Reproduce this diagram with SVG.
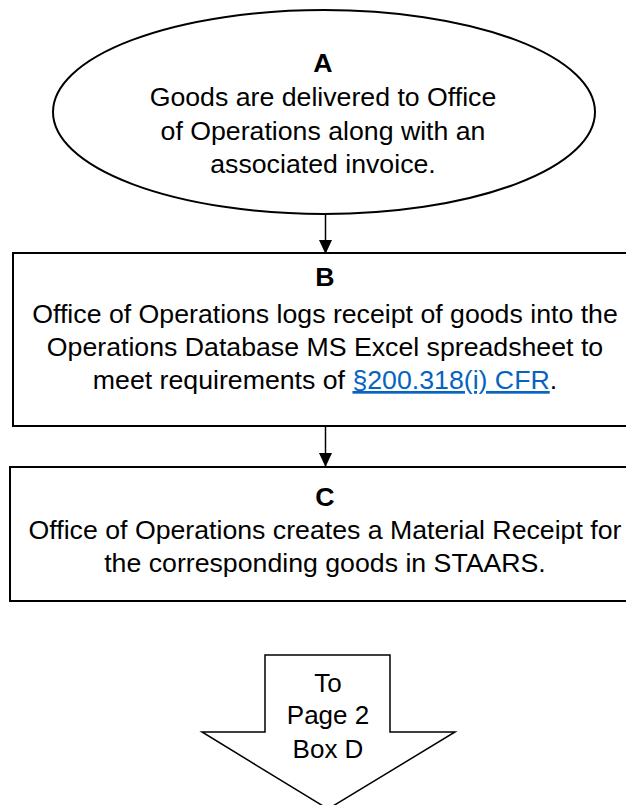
<svg xmlns="http://www.w3.org/2000/svg" width="626" height="805" viewBox="0 0 626 805">
<style>
  .shape { fill: #ffffff; stroke: #000000; stroke-width: 2; }
  .txt { font-family: "Liberation Sans", Arial, sans-serif; font-size: 26.7px; fill: #000000; text-anchor: middle; }
  .small { font-size: 26px; }
  .bold { font-weight: bold; }
  .link { fill: #0563C1; text-decoration: underline; }
  .conn { stroke: #000000; stroke-width: 1.5; fill: none; }
</style>
<defs>
  <marker id="arrow" markerUnits="userSpaceOnUse" markerWidth="14" markerHeight="15" refX="14" refY="7" orient="auto" viewBox="0 0 15 14">
    <path d="M0,0 L15,7 L0,14 Z" fill="#000000"/>
  </marker>
</defs>
<rect width="626" height="805" fill="#ffffff"/>

<g id="connectors">
  <line class="conn" x1="325.5" y1="214" x2="325.5" y2="253" marker-end="url(#arrow)"/>
  <line class="conn" x1="325.5" y1="426" x2="325.5" y2="466" marker-end="url(#arrow)"/>
</g>

<g id="nodeA">
  <ellipse class="shape" cx="324" cy="112" rx="271" ry="102"/>
  <text class="txt bold" x="323" y="72">A</text>
  <text class="txt" x="323" y="106">Goods are delivered to Office</text>
  <text class="txt" x="323" y="140">of Operations along with an</text>
  <text class="txt" x="323" y="173">associated invoice.</text>
</g>

<g id="nodeB">
  <rect class="shape" x="13" y="253" width="640" height="173"/>
  <text class="txt bold" x="325" y="286">B</text>
  <text class="txt" x="325" y="323">Office of Operations logs receipt of goods into the</text>
  <text class="txt" x="325" y="356">Operations Database MS Excel spreadsheet to</text>
  <text class="txt" x="325" y="389">meet requirements of <tspan class="link">§200.318(i) CFR</tspan>.</text>
</g>

<g id="nodeC">
  <rect class="shape" x="10" y="467" width="640" height="134"/>
  <text class="txt bold" x="325" y="506">C</text>
  <text class="txt" x="325" y="539">Office of Operations creates a Material Receipt for</text>
  <text class="txt" x="325" y="572">the corresponding goods in STAARS.</text>
</g>

<g id="offpage">
  <path class="shape" d="M265,655 L390,655 L390,732 L455,732 L328,809 L202,732 L265,732 Z" style="stroke-width:1.5"/>
  <text class="txt small" x="328" y="692">To</text>
  <text class="txt small" x="328" y="724">Page 2</text>
  <text class="txt small" x="328" y="758">Box D</text>
</g>
</svg>
